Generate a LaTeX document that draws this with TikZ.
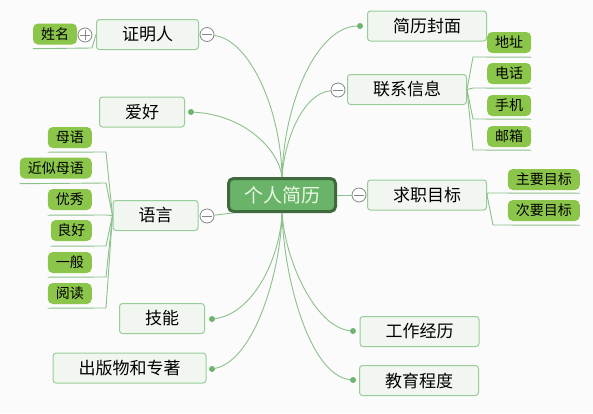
\documentclass[tikz,border=0pt]{standalone}
\usepackage{fontspec}
\setmainfont{Noto Sans CJK SC}
\usetikzlibrary{positioning}
\definecolor{mapbg}{RGB}{251,251,251}
\definecolor{mapline}{RGB}{140,192,140}
\definecolor{mapdot}{RGB}{110,180,110}
\definecolor{topicfill}{RGB}{241,247,240}
\definecolor{topicborder}{RGB}{152,204,152}
\definecolor{subfill}{RGB}{139,197,74}
\definecolor{rootfill}{RGB}{106,180,106}
\definecolor{rootborder}{RGB}{62,106,62}
\definecolor{roottext}{RGB}{236,248,228}
\definecolor{foldgray}{RGB}{135,135,135}
\tikzset{
  root/.style={draw=rootborder, fill=rootfill, line width=3pt, rounded corners=5pt, minimum width=107pt, minimum height=33pt, inner sep=0pt, text=roottext, font=\fontsize{19}{22}\selectfont},
  topic/.style={draw=topicborder, fill=topicfill, line width=1pt, rounded corners=3pt, minimum height=30pt, inner xsep=25.5pt, inner ysep=0pt, font=\fontsize{17}{20}\selectfont},
  sub/.style={fill=subfill, rounded corners=5pt, minimum height=21pt, inner xsep=8pt, inner ysep=0pt, font=\fontsize{14}{16}\selectfont},
  link/.style={draw=mapline, line width=0.9pt},
  knob/.style={circle, fill=mapdot, minimum size=6pt, inner sep=0pt},
  fold/.style={circle, draw=foldgray, fill=white, line width=0.8pt, minimum size=14pt, inner sep=0pt,
    path picture={\draw[foldgray, line width=0.8pt] ([xshift=2pt]path picture bounding box.west) -- ([xshift=-2pt]path picture bounding box.east);}},
  unfold/.style={circle, draw=foldgray, fill=white, line width=0.8pt, minimum size=14pt, inner sep=0pt,
    path picture={\draw[foldgray, line width=0.8pt] ([xshift=2pt]path picture bounding box.west) -- ([xshift=-2pt]path picture bounding box.east)
      ([yshift=-2pt]path picture bounding box.north) -- ([yshift=2pt]path picture bounding box.south);}}
}

\begin{document}
\begin{tikzpicture}[x=1pt, y=-1pt]
\fill[mapbg] (0,0) rectangle (593,413);
\useasboundingbox (0,0) rectangle (593,413);

% centre
\node[root] (cv) at (282,195) {个人简历};

% left branches
\node[topic] (witness) at (147.5,34.5) {证明人};
\node[topic] (hobby) at (142,112) {爱好};
\node[topic] (lang) at (155.5,215.5) {语言};
\node[topic] (skill) at (162,318.5) {技能};
\node[topic] (books) at (129.5,368) {出版物和专著};

% right branches
\node[topic] (cover) at (427,26) {简历封面};
\node[topic] (contact) at (407,89.5) {联系信息};
\node[topic] (goal) at (427,195) {求职目标};
\node[topic] (work) at (419.5,331.5) {工作经历};
\node[topic] (edu) at (419,380.5) {教育程度};

% sub topics
\node[sub] (name) at (55,34) {姓名};
\node[sub, anchor=east] (l1) at (92,137.5) {母语};
\node[sub, anchor=east] (l2) at (92,168) {近似母语};
\node[sub, anchor=east] (l3) at (92,199.5) {优秀};
\node[sub, anchor=east, inner xsep=6.5pt] (l4) at (92,230.5) {良好};
\node[sub, anchor=east] (l5) at (92,262.5) {一般};
\node[sub, anchor=east] (l6) at (92,293.5) {阅读};
\node[sub, anchor=west] (c1) at (487,42.5) {地址};
\node[sub, anchor=west] (c2) at (487,73.5) {电话};
\node[sub, anchor=west] (c3) at (487,105.5) {手机};
\node[sub, anchor=west] (c4) at (487,136.5) {邮箱};
\node[sub, anchor=east] (g1) at (580,179.5) {主要目标};
\node[sub, anchor=east] (g2) at (580,210.5) {次要目标};

% fold marks and dots
\node[unfold] (namefold) at (85,35) {};
\node[fold] (witnessfold) at (207,34.5) {};
\node[fold] (langfold) at (207,216) {};
\node[fold] (contactfold) at (338,90) {};
\node[fold] (goalfold) at (359,195) {};
\node[knob] (hobbydot) at (191,112) {};
\node[knob] (skilldot) at (212,319) {};
\node[knob] (booksdot) at (212,369) {};
\node[knob] (coverdot) at (360,26) {};
\node[knob] (workdot) at (353,331) {};
\node[knob] (edudot) at (353,380) {};

% centre links
\draw[link] (witnessfold) .. controls (250,40) and (281,110) .. (cv.north);
\draw[link] (hobbydot) .. controls (245,115) and (279,150) .. (cv.north);
\draw[link] (coverdot) .. controls (318,27) and (284,100) .. (cv.north);
\draw[link] (contactfold) .. controls (305,93) and (285,135) .. (cv.north);
\draw[link] (skilldot) .. controls (252,314) and (280,260) .. (cv.south);
\draw[link] (booksdot) .. controls (255,360) and (281,270) .. (cv.south);
\draw[link] (workdot) .. controls (315,327) and (285,260) .. (cv.south);
\draw[link] (edudot) .. controls (310,375) and (284,280) .. (cv.south);
\draw[link] (langfold) -- ([xshift=6pt]cv.south west);
\draw[link] (cv.east) -- (goalfold);

% sub topic links
\draw[link] (witness.west) -- (92,48) -- ([yshift=-4pt]name.south west);
\draw[link] (lang.west) -- (106,152) -- ([yshift=-4pt]l1.south west);
\draw[link] (lang.west) -- (106,183) -- ([yshift=-5pt]l2.south west);
\draw[link] (lang.west) -- (106,215) -- ([yshift=-5pt]l3.south west);
\draw[link] (lang.west) -- (106,246) -- ([yshift=-5pt]l4.south west);
\draw[link] (lang.west) -- (106,277) -- ([yshift=-4pt]l5.south west);
\draw[link] (lang.west) -- (106,308) -- ([yshift=-4pt]l6.south west);
\draw[link] (contact.east) -- (473,57) -- ([yshift=-4pt]c1.south east);
\draw[link] (contact.east) -- (473,88) -- ([yshift=-4pt]c2.south east);
\draw[link] (contact.east) -- (473,119) -- ([yshift=-3pt]c3.south east);
\draw[link] (contact.east) -- (473,150) -- ([yshift=-3pt]c4.south east);
\draw[link] (goal.east) -- (488,193) -- ([yshift=-3pt]g1.south east);
\draw[link] (goal.east) -- (493,225) -- ([yshift=-4pt]g2.south east);
\end{tikzpicture}
\end{document}
